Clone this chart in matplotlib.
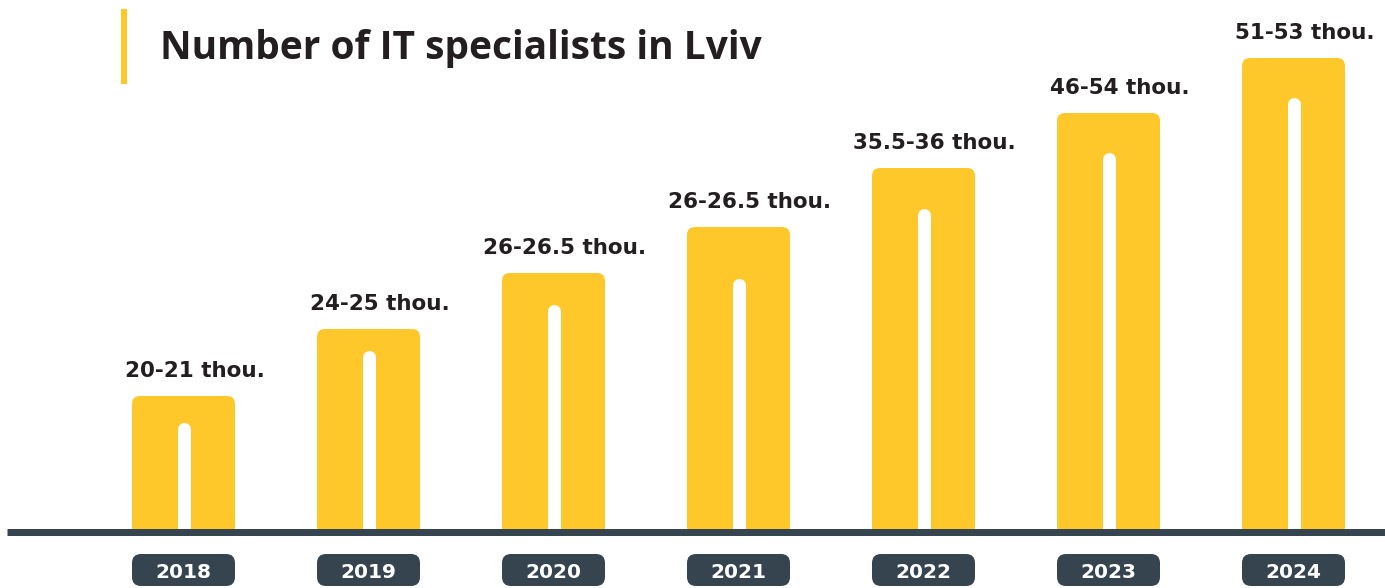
import matplotlib as mpl
mpl.use('Agg')
import numpy as np
import matplotlib.pyplot as plt
from matplotlib.patches import FancyBboxPatch, Rectangle

# values (bar heights are visual, in px above the baseline)
years = ['2018', '2019', '2020', '2021', '2022', '2023', '2024']
labels = ['20-21 thou.', '24-25 thou.', '26-26.5 thou.', '26-26.5 thou.',
          '35.5-36 thou.', '46-54 thou.', '51-53 thou.']
bar_height = [135.5, 202.5, 258.5, 304.5, 363.5, 418.5, 473.5]
inner_height = [109.5, 181.5, 227.5, 253.5, 323.5, 379.5, 434.5]

YELLOW = '#FEC82A'
DARK = '#36444F'
TEXT = '#231F20'

W, H = 1385, 588
fig = plt.figure(figsize=(W / 100, H / 100), dpi=100)
ax = fig.add_axes([0, 0, 1, 1])
ax.axis('off')

# 1 x unit = 185 px (bar spacing), 1 y unit = 1 px
step = 185.0
x0 = 183.5
ax.set_xlim(-x0 / step, (W - x0) / step)
ax.set_ylim(-(H - 531.5), 531.5)
asp = step  # y units per x unit, for rounded corners

bw = 103 / step
x = np.arange(len(years))

for i in range(len(years)):
    # yellow bar with rounded top
    p = FancyBboxPatch((x[i] - bw / 2, -3), bw, bar_height[i] + 3,
                       boxstyle='round,pad=0,rounding_size=%f' % (8 / step),
                       mutation_aspect=asp, fc=YELLOW, ec='none', zorder=2)
    ax.add_patch(p)
    # white inner strip
    ax.plot([x[i] + 0.5 / step, x[i] + 0.5 / step], [3, inner_height[i] - 6.5],
            color='white', lw=13 * 0.72, solid_capstyle='round', zorder=3)
    # value label
    ax.text(x[i] + 11 / step, bar_height[i] + 19, labels[i], ha='center', va='baseline',
            fontsize=15.5, fontweight='bold', color=TEXT, family='DejaVu Sans', zorder=4)
    # year box
    yb = FancyBboxPatch((x[i] - bw / 2, -54.5), bw, 32,
                        boxstyle='round,pad=0,rounding_size=%f' % (9 / step),
                        mutation_aspect=asp, fc=DARK, ec='none', zorder=2)
    ax.add_patch(yb)
    ax.text(x[i], -38.5, years[i], ha='center', va='center_baseline',
            fontsize=14.5, fontweight='bold', color='white', family='DejaVu Sans', zorder=4)

# baseline
ax.plot([(7 - x0) / step, (W - x0) / step], [0, 0], color=DARK, lw=7 * 0.72,
        solid_capstyle='butt', zorder=5)

# title with accent bar
fig.patches.append(Rectangle((121 / W, 1 - 84 / H), 6 / W, 75 / H,
                             transform=fig.transFigure, fc=YELLOW, ec='none'))
fig.text(160 / W, 1 - 59 / H, 'Number of IT specialists in Lviv', ha='left', va='baseline',
         fontsize=28, fontweight='bold', color=TEXT, family='Open Sans')

plt.savefig('out.png', dpi=100)
